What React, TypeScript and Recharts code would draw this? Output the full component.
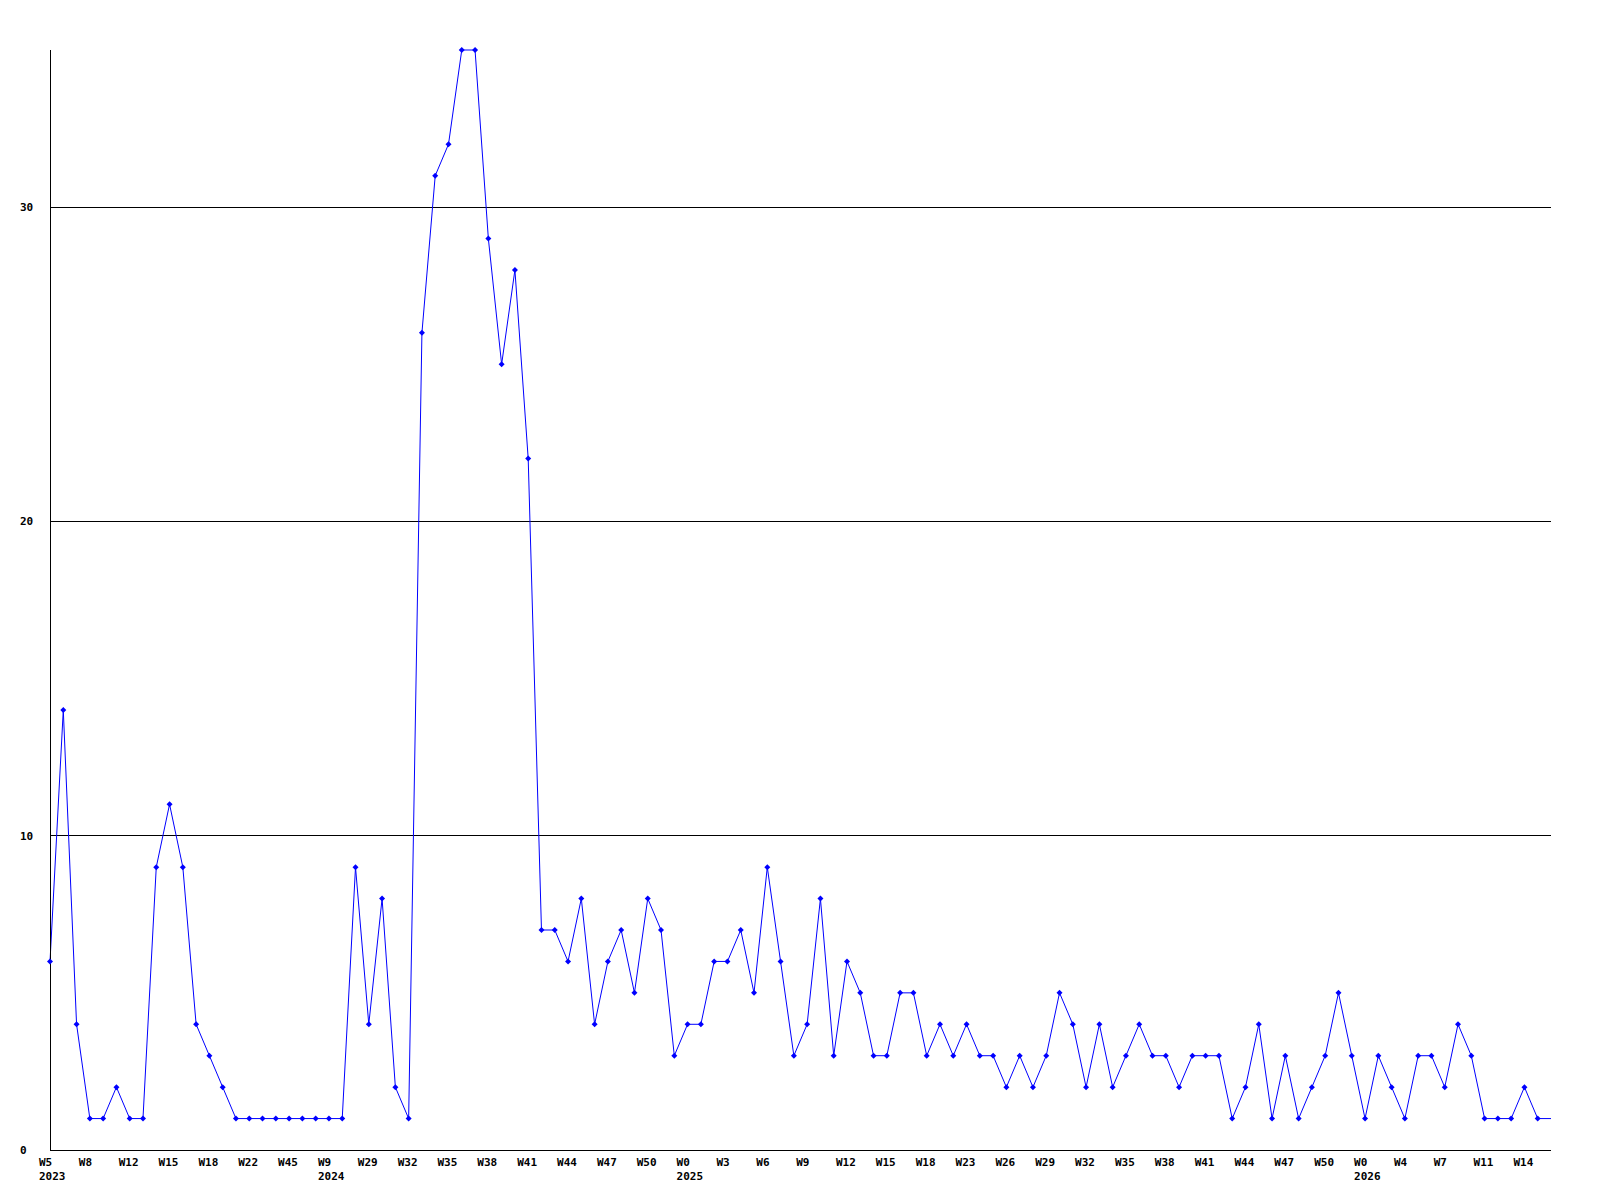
import { Line, LineChart, ReferenceLine, XAxis, YAxis } from 'recharts'

// weekly counts, one entry per plotted week (oldest first)
const counts = [
  6, 14, 4, 1, 1, 2, 1, 1, 9, 11, 9, 4, 3, 2, 1, 1, 1, 1, 1, 1, 1, 1, 1, 9, 4, 8, 2, 1, 26, 31,
  32, 35, 35, 29, 25, 28, 22, 7, 7, 6, 8, 4, 6, 7, 5, 8, 7, 3, 4, 4, 6, 6, 7, 5, 9, 6, 3, 4, 8, 3,
  6, 5, 3, 3, 5, 5, 3, 4, 3, 4, 3, 3, 2, 3, 2, 3, 5, 4, 2, 4, 2, 3, 4, 3, 3, 2, 3, 3, 3, 1,
  2, 4, 1, 3, 1, 2, 3, 5, 3, 1, 3, 2, 1, 3, 3, 2, 4, 3, 1, 1, 1, 2, 1, 1,
]

// one week label every third point
const weekTicks = [
  'W5', 'W8', 'W12', 'W15', 'W18', 'W22', 'W45', 'W9', 'W29', 'W32', 'W35', 'W38', 'W41',
  'W44', 'W47', 'W50', 'W0', 'W3', 'W6', 'W9', 'W12', 'W15', 'W18', 'W23', 'W26', 'W29',
  'W32', 'W35', 'W38', 'W41', 'W44', 'W47', 'W50', 'W0', 'W4', 'W7', 'W11', 'W14',
]

// year printed under some of the week labels
const yearTicks = [
  '2023', '', '', '', '', '', '', '2024', '', '', '', '', '', '', '', '', '2025', '', '', '',
  '', '', '', '', '', '', '', '', '', '', '', '', '', '2026', '', '', '', '',
]

const yTicks = [0, 10, 20, 30]

const TICK_STEP = 3
const FONT = '"DejaVu Sans Mono", monospace'

const data = counts.map((count, idx) => ({ idx, count }))
const xTicks = weekTicks.map((_, k) => k * TICK_STEP)

function WeekTick(props: any) {
  const { x, y, payload } = props
  const k = Math.round(payload.value / TICK_STEP)
  return (
    <g>
      <text x={x - 11} y={y + 16} textAnchor="start" fontFamily={FONT} fontSize={11} fontWeight="bold" fill="#000">
        {weekTicks[k]}
      </text>
      {yearTicks[k] ? (
        <text x={x - 11} y={y + 30} textAnchor="start" fontFamily={FONT} fontSize={11} fontWeight="bold" fill="#000">
          {yearTicks[k]}
        </text>
      ) : null}
    </g>
  )
}

function CountTick(props: any) {
  const { y, payload } = props
  return (
    <text x={20} y={y + 4} textAnchor="start" fontFamily={FONT} fontSize={11} fontWeight="bold" fill="#000">
      {payload.value}
    </text>
  )
}

function Diamond(props: any) {
  const { cx, cy, index } = props
  if (index === counts.length - 1 || cx == null) return <g key={`d-${index}`} />
  return (
    <path
      key={`d-${index}`}
      d={`M${cx},${cy - 3} L${cx + 3},${cy} L${cx},${cy + 3} L${cx - 3},${cy} Z`}
      fill="#0000ff"
    />
  )
}

export default function App() {
  return (
    <div style={{ position: 'absolute', left: 0, top: 0, width: 1600, height: 1200, background: '#fff' }}>
      <LineChart width={1600} height={1200} data={data} margin={{ top: 50, right: 49, bottom: 0, left: 0 }}>
        {yTicks
          .filter((v) => v > 0)
          .map((v) => (
            <ReferenceLine key={v} y={v} stroke="#000" strokeWidth={1} shapeRendering="crispEdges" />
          ))}
        <XAxis
          type="number"
          dataKey="idx"
          domain={[0, counts.length - 1]}
          ticks={xTicks}
          interval={0}
          height={50}
          tickSize={0}
          tickMargin={0}
          tickLine={false}
          axisLine={{ stroke: '#000', shapeRendering: 'crispEdges' }}
          tick={<WeekTick />}
        />
        <YAxis
          type="number"
          domain={[0, 35]}
          ticks={yTicks}
          width={50}
          tickSize={0}
          tickMargin={0}
          tickLine={false}
          axisLine={{ stroke: '#000', shapeRendering: 'crispEdges' }}
          tick={<CountTick />}
        />
        <Line
          type="linear"
          dataKey="count"
          stroke="#0000ff"
          strokeWidth={1}
          dot={Diamond}
          activeDot={false}
          isAnimationActive={false}
        />
      </LineChart>
    </div>
  )
}
